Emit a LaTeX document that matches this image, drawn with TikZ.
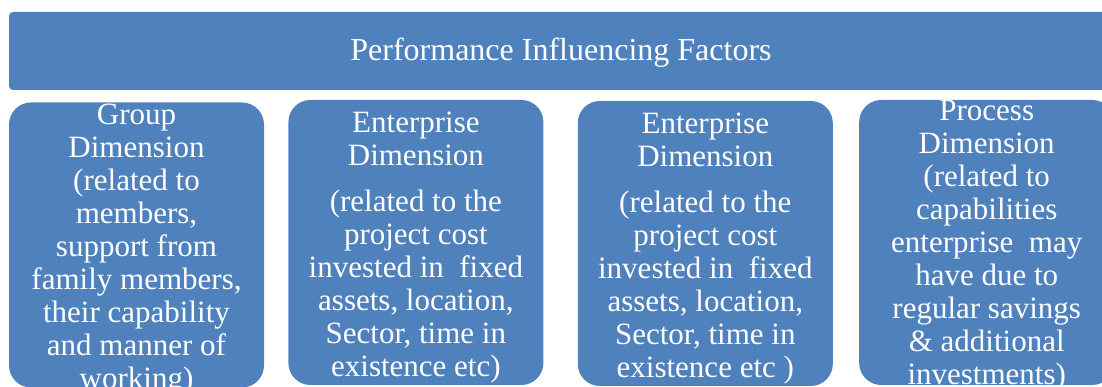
\documentclass[tikz,border=0pt]{standalone}
\usepackage{fontspec}
\setmainfont{Liberation Serif}
\usetikzlibrary{positioning}
\definecolor{pifblue}{HTML}{4F81BD}
\begin{document}
\begin{tikzpicture}[x=1pt, y=1pt,
	banner/.style = {fill=pifblue, rounded corners=4pt, minimum width=1104pt, minimum height=78pt, inner sep=0pt},
	dimbox/.style = {fill=pifblue, rounded corners=22pt, minimum width=255pt, minimum height=285pt, inner sep=0pt},
	dimtext/.style = {text=white, align=center, inner sep=0pt, font=\fontsize{31}{33}\selectfont}]
		\useasboundingbox (0,0) rectangle (1102,387);
		\node[banner] (pif) at (561,336) {};
		\node[text=white, font=\fontsize{32}{36}\selectfont] (pift) [yshift=-2pt] at (pif.center) {Performance Influencing Factors};
		\node[dimbox] (grp) at (136.5,142) {};
		\node[dimbox] (ent1) [right=24pt of grp, yshift=2.5pt] {};
		\node[dimbox] (ent2) [right=34pt of ent1, yshift=-1pt] {};
		\node[dimbox] (proc) [right=26pt of ent2, yshift=1pt] {};
		\node[dimtext] (grpt) [yshift=-5pt] at (grp.center) {Group\\ Dimension\\ (related to\\ members,\\ support from\\ family members,\\ their capability\\ and manner of\\ working)};
		\node[dimtext] (ent1t) [yshift=-5pt] at (ent1.center) {Enterprise\\ Dimension\\[13pt] (related to the\\ project cost\\ invested in~ fixed\\ assets, location,\\ Sector, time in\\ existence etc)};
		\node[dimtext] (ent2t) [yshift=-5pt] at (ent2.center) {Enterprise\\ Dimension\\[13pt] (related to the\\ project cost\\ invested in~ fixed\\ assets, location,\\ Sector, time in\\ existence etc )};
		\node[dimtext] (proct) [yshift=-3pt] at (proc.center) {Process\\ Dimension\\ (related to\\ capabilities\\ enterprise~ may\\ have due to\\ regular savings\\ \& additional\\ investments)};

	\end{tikzpicture}
\end{document}
